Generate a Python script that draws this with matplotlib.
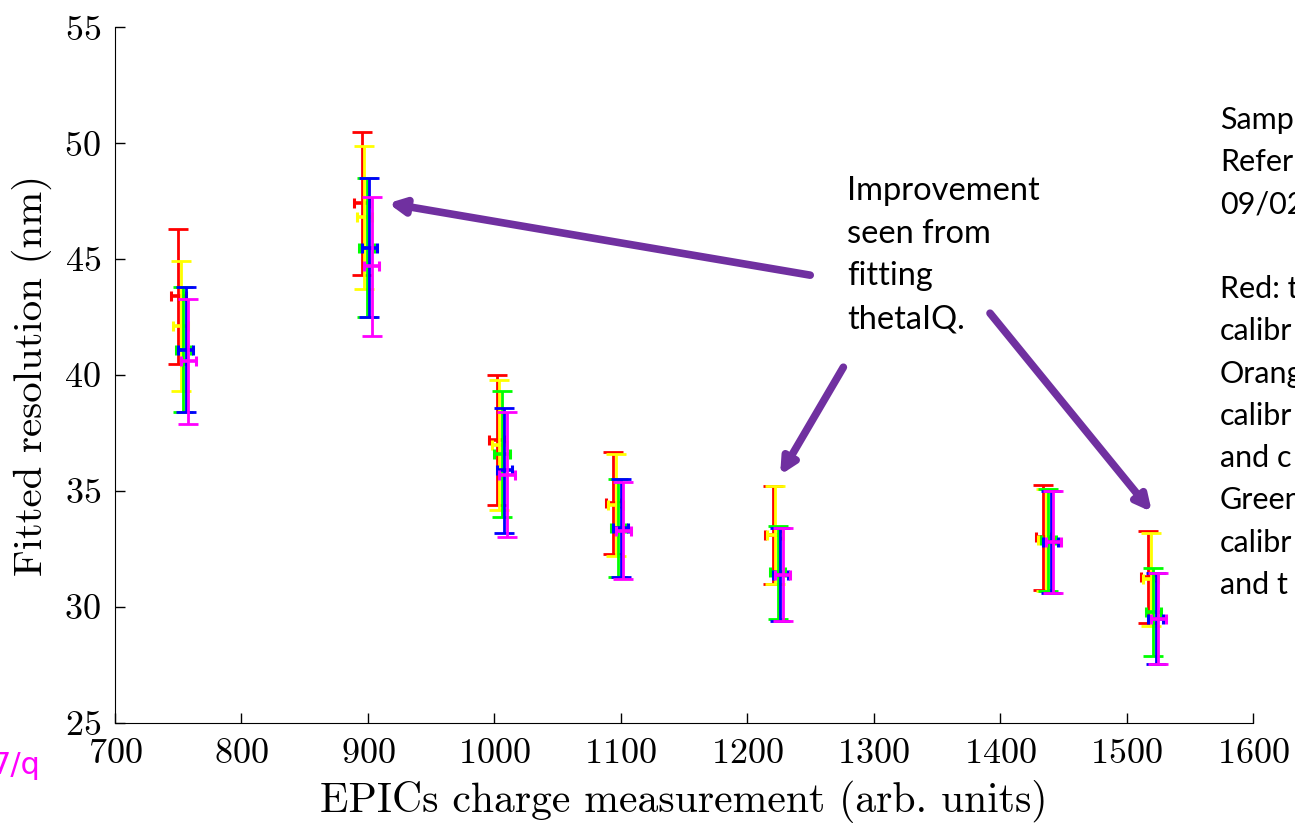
import matplotlib
matplotlib.use('Agg')
import matplotlib.pyplot as plt
import numpy as np

# EPICs charge at each setting (arb. units)
charge = [754, 899, 1006, 1098, 1224, 1438, 1521]

# fitted resolution (nm) and error half-widths, one list per fit type
res_red = [43.4, 47.4, 37.2, 34.5, 33.1, 33.0, 31.3]
err_red = [2.9, 3.1, 2.8, 2.2, 2.1, 2.25, 2.0]
res_yellow = [42.1, 46.8, 37.0, 34.4, 33.1, 32.9, 31.2]
err_yellow = [2.8, 3.1, 2.8, 2.2, 2.1, 2.2, 2.0]
res_green = [41.1, 45.5, 36.6, 33.4, 31.5, 32.9, 29.8]
err_green = [2.7, 3.0, 2.7, 2.1, 2.0, 2.2, 1.9]
res_blue = [41.1, 45.5, 35.9, 33.4, 31.4, 32.8, 29.5]
err_blue = [2.7, 3.0, 2.7, 2.1, 2.0, 2.2, 1.95]
res_magenta = [40.6, 44.7, 35.7, 33.3, 31.4, 32.8, 29.5]
err_magenta = [2.7, 3.0, 2.7, 2.1, 2.0, 2.2, 1.95]

series = [
    (res_red, err_red, '#FF0000', -4),
    (res_yellow, err_yellow, '#FFFF00', -2),
    (res_green, err_green, '#00FF00', 0),
    (res_blue, err_blue, '#0000FF', 2),
    (res_magenta, err_magenta, '#FF00FF', 4),
]

plt.rcParams['mathtext.fontset'] = 'cm'
plt.rcParams['axes.formatter.use_mathtext'] = True

fig = plt.figure(figsize=(12.95, 8.25), dpi=100)
ax = fig.add_axes([0.0888, 0.1236, 0.8788, 0.8434])

for res, err, col, dx in series:
    xs = np.array(charge) + dx
    ax.errorbar(xs, res, yerr=err, fmt='none', ecolor=col, elinewidth=2.0,
                capsize=7, capthick=2.0)
    ax.errorbar(xs, res, xerr=6, fmt='none', ecolor=col, elinewidth=2.6,
                capsize=3.5, capthick=2.2)

ax.set_xlim(700, 1600)
ax.set_ylim(25, 55)
ax.set_xticks(range(700, 1601, 100))
ax.set_yticks(range(25, 56, 5))
ax.spines['top'].set_visible(False)
ax.spines['right'].set_visible(False)
ax.tick_params(direction='in', length=7, width=1, labelsize=26)
ax.tick_params(axis='y', pad=10)
ax.tick_params(axis='x', pad=11)
for lab in ax.get_xticklabels() + ax.get_yticklabels():
    lab.set_fontfamily('cmr10')
ax.set_xlabel('EPICs charge measurement (arb. units)', fontsize=30,
              fontfamily='cmr10', labelpad=7)
ax.set_ylabel('Fitted resolution (nm)', fontsize=29.5, fontfamily='cmr10',
              labelpad=9)

# purple arrows and note
purple = '#7030A0'
arrows = [
    ((1249.8, 44.31), (916, 47.41)),
    ((1276, 40.34), (1226, 35.69)),
    ((1392, 42.67), (1520, 34.1)),
]
for tail, head in arrows:
    ax.annotate('', xy=head, xytext=tail,
                arrowprops=dict(arrowstyle='-|>,head_length=0.9,head_width=0.45',
                                color=purple, lw=5.5, shrinkA=0, shrinkB=0),
                annotation_clip=False)

fig.text(847 / 1295, 1 - 176 / 825, 'Improvement\nseen from\nfitting\nthetaIQ.',
         fontsize=23.5, fontfamily='Lato', va='top', ha='left', linespacing=1.53)

fig.text(1220 / 1295, 1 - 106 / 825,
         'Samp\nRefer\n09/02\n\nRed: t\ncalibr\nOrang\ncalibr\nand c\nGreen\ncalibr\nand t',
         fontsize=22, fontfamily='Lato', va='top', ha='left', linespacing=1.62)

fig.text(-9 / 1295, 1 - 774 / 825, '7/q', fontsize=22, color='#FF00FF',
         fontfamily='DejaVu Sans', va='baseline', ha='left')

fig.savefig('out.png', dpi=100)
